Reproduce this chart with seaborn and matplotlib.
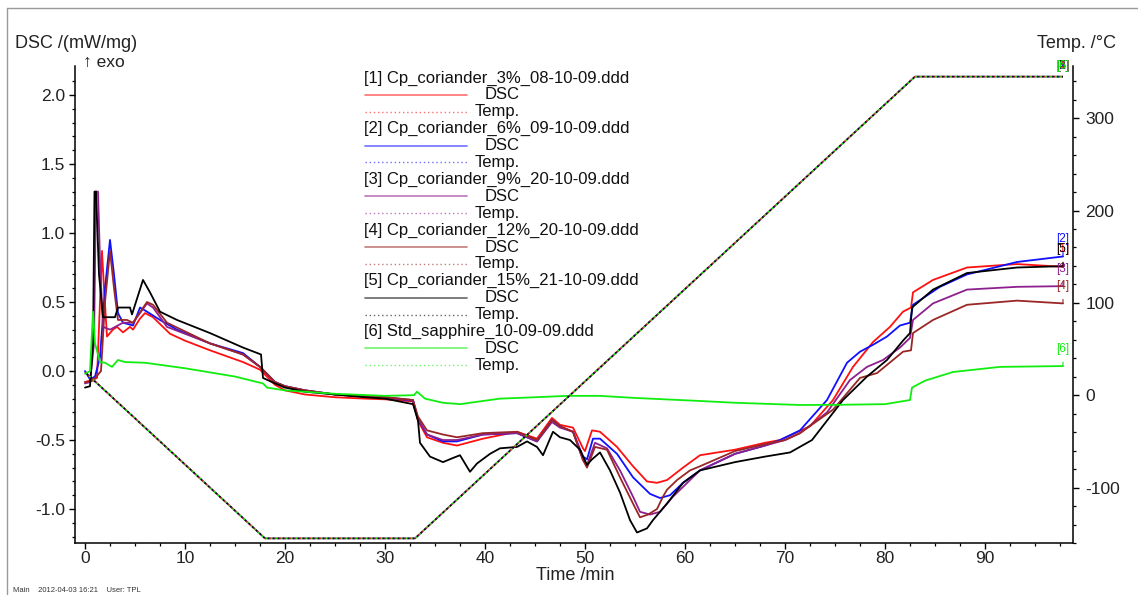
import matplotlib
matplotlib.use("Agg")
import matplotlib.pyplot as plt
import seaborn as sns
from matplotlib.lines import Line2D

# ---------------- data ----------------
series_names = [
    "[1] Cp_coriander_3%_08-10-09.ddd",
    "[2] Cp_coriander_6%_09-10-09.ddd",
    "[3] Cp_coriander_9%_20-10-09.ddd",
    "[4] Cp_coriander_12%_20-10-09.ddd",
    "[5] Cp_coriander_15%_21-10-09.ddd",
    "[6] Std_sapphire_10-09-09.ddd",
]
series_tags = ["[1]", "[2]", "[3]", "[4]", "[5]", "[6]"]
series_colors = ["#ff1010", "#1010ff", "#8e1f8e", "#9a2626", "#000000", "#10ee10"]

t1 = [0, 0.5, 1.2, 1.5, 1.7, 1.9, 2.2, 2.8, 3.2, 3.8, 4.5, 4.8, 5.5, 6.0, 6.8, 8.5, 10, 12.5, 15.8, 17.5,
      19, 20, 22, 25, 28, 30, 32.8, 33.3, 34.2, 35.8, 37.2, 39.8, 43.2, 45.2, 46.7, 47.5, 48.8, 49.8, 50.0,
      50.7, 51.5, 53.2, 54.8, 56.2, 57.2, 58.2, 59.8, 61.5, 65, 68, 69.5, 72.5, 74.8, 76.8, 78.8, 80.5,
      81.8, 82.6, 82.8, 84.8, 88.2, 93.2, 97.8]
dsc1 = [-0.08, -0.07, -0.05, 0.5, 0.87, 0.6, 0.25, 0.3, 0.32, 0.28, 0.32, 0.3, 0.38, 0.42, 0.39, 0.27, 0.22,
        0.15, 0.065, 0.01, -0.1, -0.14, -0.17, -0.19, -0.2, -0.205, -0.22, -0.36, -0.48, -0.52, -0.54, -0.49,
        -0.44, -0.49, -0.34, -0.39, -0.41, -0.56, -0.58, -0.43, -0.44, -0.55, -0.69, -0.8, -0.81, -0.79,
        -0.7, -0.61, -0.57, -0.52, -0.5, -0.4, -0.21, 0.03, 0.21, 0.32, 0.43, 0.46, 0.57, 0.66, 0.75,
        0.775, 0.755]

t2 = [0, 0.5, 1.0, 1.5, 2.0, 2.5, 2.9, 3.3, 3.8, 4.8, 5.5, 6.2, 7.5, 9.2, 12.5, 15.8, 17.5, 19, 20, 22,
      25, 28, 30, 32.8, 33.3, 34.2, 35.8, 37.2, 39.8, 43.2, 45.2, 46.7, 47.5, 48.8, 49.8, 50.2, 50.8, 51.5,
      53.2, 54.8, 56.5, 57.5, 58.5, 59.8, 61.5, 65, 68, 69.5, 71.5, 74.2, 76.2, 77.5, 78.8, 80.2, 81.5,
      82.5, 82.8, 85.5, 88.2, 93.2, 97.8]
dsc2 = [0.0, -0.06, -0.04, 0.1, 0.6, 0.95, 0.7, 0.42, 0.35, 0.33, 0.46, 0.43, 0.37, 0.3, 0.2, 0.13, 0.03,
        -0.08, -0.11, -0.14, -0.17, -0.185, -0.19, -0.215, -0.35, -0.46, -0.51, -0.51, -0.46, -0.45, -0.51,
        -0.355, -0.4, -0.44, -0.62, -0.64, -0.49, -0.49, -0.6, -0.77, -0.89, -0.92, -0.9, -0.81, -0.72,
        -0.6, -0.54, -0.5, -0.43, -0.21, 0.06, 0.14, 0.19, 0.25, 0.33, 0.35, 0.48, 0.61, 0.7, 0.79, 0.83]

t3 = [0, 0.5, 0.9, 1.1, 1.3, 1.5, 1.8, 2.5, 3.8, 4.8, 6.2, 6.8, 8.2, 12.5, 15.8, 17.5, 19, 20, 22, 25, 28,
      30, 32.8, 33.3, 34.2, 35.8, 37.2, 39.8, 43.2, 45.2, 46.7, 47.5, 48.8, 49.8, 50.2, 51.0, 52.2, 53.5,
      54.8, 55.5, 56.5, 57.5, 58.8, 60.5, 61.5, 65, 68, 70, 71.5, 74.2, 76.5, 78.2, 79.8, 81.5, 82.5, 82.8,
      84.8, 88.2, 93.2, 97.8]
dsc3 = [-0.09, -0.08, 0.2, 1.3, 1.3, 0.8, 0.32, 0.3, 0.35, 0.35, 0.49, 0.46, 0.32, 0.2, 0.12, 0.03, -0.08,
        -0.11, -0.14, -0.17, -0.185, -0.19, -0.21, -0.35, -0.46, -0.5, -0.5, -0.46, -0.45, -0.51, -0.37,
        -0.41, -0.44, -0.645, -0.68, -0.52, -0.56, -0.72, -0.91, -1.02, -1.04, -1.02, -0.91, -0.79, -0.72,
        -0.6, -0.54, -0.5, -0.45, -0.3, -0.065, 0.03, 0.08, 0.17, 0.24, 0.37, 0.49, 0.59, 0.61, 0.615]

t4 = [0, 0.8, 1.6, 2.0, 2.5, 2.9, 3.3, 4.2, 4.8, 6.2, 6.8, 8.2, 12.5, 15.8, 17.5, 19, 20, 22, 25, 28, 30,
      32.8, 33.3, 34.2, 35.8, 37.2, 39.8, 43.2, 45.2, 46.7, 47.5, 48.8, 49.8, 50.2, 51.0, 52.2, 53.5, 54.8,
      55.5, 56.3, 57.2, 57.8, 58.2, 59.2, 60.5, 61.5, 65, 68, 70, 71.5, 74.8, 77.5, 79.2, 80.8, 81.8, 82.6,
      82.8, 84.8, 88.2, 93.2, 97.8]
dsc4 = [-0.08, -0.07, 0.0, 0.5, 0.87, 0.6, 0.37, 0.37, 0.35, 0.5, 0.48, 0.35, 0.2, 0.12, 0.03, -0.08, -0.11,
        -0.14, -0.17, -0.185, -0.19, -0.21, -0.33, -0.43, -0.46, -0.48, -0.45, -0.44, -0.5, -0.355, -0.4,
        -0.44, -0.645, -0.7, -0.55, -0.57, -0.77, -0.96, -1.06, -1.04, -1.0, -0.91, -0.86, -0.79, -0.72,
        -0.69, -0.58, -0.53, -0.5, -0.45, -0.28, -0.05, -0.015, 0.08, 0.14, 0.15, 0.275, 0.37, 0.48, 0.51,
        0.49]

t5 = [0, 0.5, 0.8, 0.95, 1.1, 1.4, 1.8, 3.0, 3.3, 4.5, 4.7, 5.8, 6.5, 7.5, 9.2, 12.5, 15.8, 17.6, 17.8, 19,
      20, 22, 25, 28, 30, 32.8, 33.3, 33.5, 34.5, 35.8, 36.8, 37.5, 38.5, 39.2, 40.5, 41.5, 43.2, 44.2,
      45.2, 45.8, 46.8, 47.5, 48.5, 49.5, 50.2, 50.7, 51.5, 52.5, 53.5, 54.5, 55.2, 56.2, 56.8, 58.2, 59.8,
      61.5, 65, 68, 70.5, 72.7, 75.8, 78.2, 80.2, 81.8, 82.5, 82.7, 84.8, 88.2, 93.2, 97.8]
dsc5 = [-0.12, -0.11, 0.2, 1.3, 1.3, 0.7, 0.39, 0.39, 0.46, 0.46, 0.41, 0.66, 0.57, 0.43, 0.37, 0.275, 0.17,
        0.12, -0.05, -0.09, -0.12, -0.15, -0.17, -0.19, -0.2, -0.24, -0.36, -0.52, -0.62, -0.66, -0.63,
        -0.61, -0.73, -0.67, -0.6, -0.56, -0.55, -0.51, -0.55, -0.61, -0.44, -0.48, -0.5, -0.57, -0.68,
        -0.64, -0.59, -0.72, -0.88, -1.08, -1.17, -1.14, -1.08, -0.96, -0.81, -0.72, -0.66, -0.62, -0.59,
        -0.5, -0.21, -0.04, 0.08, 0.22, 0.275, 0.46, 0.59, 0.71, 0.75, 0.76]

t6 = [0, 0.5, 0.8, 1.0, 1.5, 2.0, 2.7, 3.3, 4, 6, 10, 15, 17.8, 18.2, 20, 25, 30, 32.9, 33.2, 34, 35.8,
      37.5, 41.5, 45, 48.2, 51.5, 55, 61.5, 65, 71.5, 75, 80, 82.5, 82.7, 84, 86.8, 91.5, 97.8]
dsc6 = [-0.02, 0.0, 0.43, 0.2, 0.065, 0.06, 0.03, 0.08, 0.065, 0.06, 0.02, -0.04, -0.09, -0.12, -0.14,
        -0.165, -0.18, -0.175, -0.15, -0.2, -0.23, -0.24, -0.2, -0.19, -0.18, -0.18, -0.195, -0.217, -0.23,
        -0.246, -0.245, -0.24, -0.21, -0.12, -0.07, -0.007, 0.03, 0.036]

dsc_times = [t1, t2, t3, t4, t5, t6]
dsc_values = [dsc1, dsc2, dsc3, dsc4, dsc5, dsc6]

temp_time = [0, 18, 33, 83, 97.8]
temp_values = [25, -155, -155, 345, 345]

xticks = [0, 10, 20, 30, 40, 50, 60, 70, 80, 90]
yticks_dsc = [-1.0, -0.5, 0.0, 0.5, 1.0, 1.5, 2.0]
yticks_temp = [-100, 0, 100, 200, 300]

# ---------------- style ----------------
sns.set_style("ticks")
plt.rcParams["font.family"] = ["Liberation Sans", "DejaVu Sans"]
plt.rcParams["axes.unicode_minus"] = False

W, H = 1138, 595
fig = plt.figure(figsize=(W / 100, H / 100), dpi=100)


def fx(x):
    return x / W


def fy(y):
    return 1 - y / H


ax = fig.add_axes([fx(75), fy(543), fx(1073 - 75), (543 - 66) / H])
ax2 = ax.twinx()

for i in range(6):
    sns.lineplot(x=dsc_times[i], y=dsc_values[i], ax=ax, color=series_colors[i], lw=1.3,
                 sort=False, estimator=None, legend=False)

offsets = [0, 1, 2, 0.5, 1.5, 2.5]
for i in range(6):
    sns.lineplot(x=temp_time, y=temp_values, ax=ax2, color=series_colors[i], lw=1.2,
                 linestyle=(offsets[i], (1, 2)), sort=False, estimator=None, legend=False)

ax.set_xlim(-1.0, 98.8)
ax.set_ylim(-1.246, 2.21)
ax2.set_ylim(-160, 356.5)

ax.set_xticks(xticks)
ax.set_xticks([v + d for v in xticks for d in (2.5, 5, 7.5)], minor=True)
ax.set_yticks(yticks_dsc)
ax.set_yticklabels([f"{v:.1f}" for v in yticks_dsc])
ax.set_yticks([round(-1.2 + 0.1 * k, 2) for k in range(34)], minor=True)
ax2.set_yticks(yticks_temp)
ax2.set_yticks([-160 + 20 * k for k in range(26)], minor=True)

for a in (ax, ax2):
    a.spines["top"].set_visible(False)
    for s in a.spines.values():
        s.set_linewidth(1.1)
        s.set_color("black")
    a.tick_params(which="major", direction="out", length=4, width=1.0, labelsize=12.5, color="black",
                  labelcolor="#222222")
    a.tick_params(which="minor", direction="out", length=2.5, width=0.9, color="black")
    a.set_xlabel("")
    a.set_ylabel("")
ax.spines["right"].set_visible(False)
ax2.spines["left"].set_visible(False)
ax2.spines["bottom"].set_visible(False)
ax.tick_params(axis="x", pad=2)
ax.tick_params(axis="y", pad=3)
ax2.tick_params(axis="y", pad=5)

# end labels of DSC curves
for i in range(6):
    ax.annotate(series_tags[i], xy=(dsc_times[i][-1], dsc_values[i][-1]), xytext=(0, 12.5),
                textcoords="offset points", ha="center", va="center", fontsize=8.5,
                color=series_colors[i],
                arrowprops=dict(arrowstyle="-", color=series_colors[i], lw=0.8, shrinkA=3, shrinkB=0))
# end labels of temperature curves
for i in range(6):
    ax2.annotate(series_tags[i], xy=(temp_time[-1], temp_values[-1]), xytext=(0, 8),
                 textcoords="offset points", ha="center", va="center", fontsize=8.5,
                 color=series_colors[i])

# axis titles
fig.text(fx(15), fy(44), "DSC /(mW/mg)", fontsize=13, ha="left", va="center", color="#222222")
fig.text(fx(83), fy(62), "\u2191 exo", fontsize=12.5, ha="left", va="center", color="#222222")
fig.text(fx(1116), fy(44), "Temp. /\u00b0C", fontsize=13, ha="right", va="center", color="#222222")
fig.text(fx(575), fy(576), "Time /min", fontsize=13, ha="center", va="center", color="#222222")
fig.text(fx(13), fy(590), "Main    2012-04-03 16:21    User: TPL", fontsize=5.5, ha="left", va="center",
         color="#333333")

# custom legend
row = 16.9
for i in range(6):
    y0 = 78 + 3 * row * i
    fig.text(fx(364), fy(y0), series_names[i], fontsize=12, ha="left", va="center", color="#111111")
    fig.add_artist(Line2D([fx(365), fx(467)], [fy(y0 + row)] * 2, transform=fig.transFigure,
                          color=series_colors[i], lw=1.2, alpha=0.6))
    fig.text(fx(520), fy(y0 + row), "DSC", fontsize=12, ha="right", va="center", color="#111111")
    fig.add_artist(Line2D([fx(365), fx(467)], [fy(y0 + 2 * row)] * 2, transform=fig.transFigure,
                          color=series_colors[i], lw=1.0, linestyle=(0, (1, 2)), alpha=0.6))
    fig.text(fx(520), fy(y0 + 2 * row), "Temp.", fontsize=12, ha="right", va="center", color="#111111")

# frame
fig.add_artist(Line2D([fx(7), fx(7)], [0, fy(8)], transform=fig.transFigure, color="#999999", lw=1.0))
fig.add_artist(Line2D([fx(7), 1], [fy(8), fy(8)], transform=fig.transFigure, color="#999999", lw=1.0))

fig.savefig("out.png", dpi=100)
